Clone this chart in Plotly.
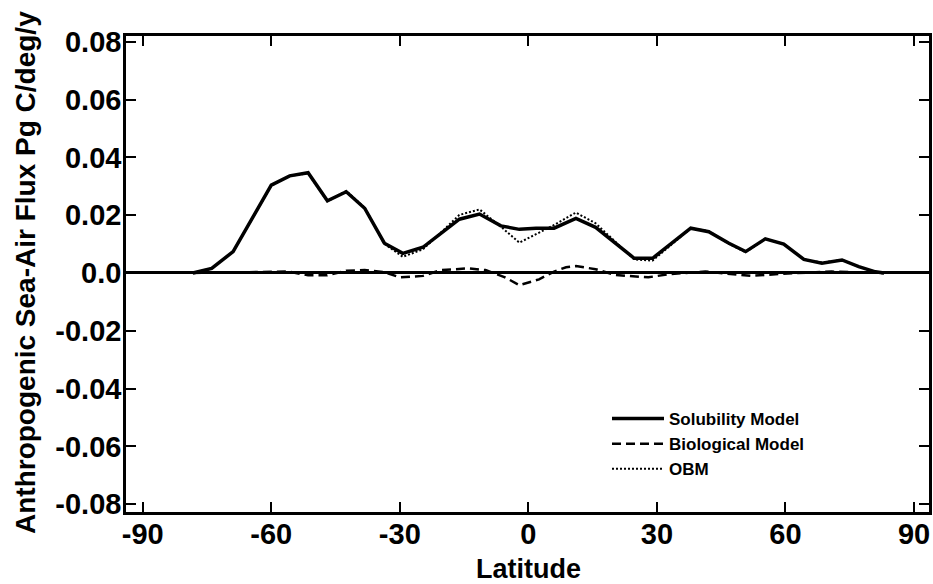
import plotly.graph_objects as go

# Latitude (deg) and fluxes (Pg C/deg/y)
lat_sol = [-78.3, -73.9, -68.9, -60.0, -55.7, -51.4, -46.9, -42.5, -38.2, -33.6,
           -29.3, -24.6, -20.4, -16.1, -11.4, -6.4, -2.1, 1.8, 6.0, 11.1,
           15.7, 24.7, 29.0, 37.9, 42.1, 46.8, 50.7, 55.3, 59.6, 64.3,
           68.5, 73.2, 77.1, 81.0, 83.0]
solubility = [0.0, 0.0016, 0.0074, 0.0304, 0.0336, 0.0347, 0.0250, 0.0281, 0.0224, 0.0103,
              0.0068, 0.0089, 0.0137, 0.0186, 0.0204, 0.0163, 0.0151, 0.0155, 0.0155, 0.0189,
              0.0158, 0.0051, 0.0051, 0.0155, 0.0143, 0.0103, 0.0074, 0.0118, 0.0100, 0.0047,
              0.0034, 0.0045, 0.0022, 0.0004, 0.0]
obm = [0.0, 0.0016, 0.0074, 0.0302, 0.0336, 0.0345, 0.0248, 0.0284, 0.0226, 0.0101,
       0.0056, 0.0082, 0.0140, 0.0201, 0.0220, 0.0160, 0.0105, 0.0135, 0.0166, 0.0209,
       0.0172, 0.0047, 0.0043, 0.0155, 0.0145, 0.0101, 0.0072, 0.0118, 0.0100, 0.0047,
       0.0036, 0.0045, 0.0022, 0.0004, 0.0]

lat_bio = [-78.3, -70.0, -60.0, -56.0, -51.4, -47.0, -42.5, -38.2, -33.6, -30.0,
           -24.6, -20.4, -13.8, -10.0, -5.6, -2.1, 2.5, 6.0, 8.8, 11.1,
           15.7, 20.4, 28.0, 32.8, 41.3, 52.0, 59.0, 70.8, 78.6, 83.0]
biological = [0.0, 0.0002, 0.0003, 0.0005, -0.0008, -0.0008, 0.0008, 0.0010, 0.0003, -0.0015,
              -0.0010, 0.0010, 0.0016, 0.0010, -0.0014, -0.0042, -0.0022, 0.0005, 0.0020, 0.0024,
              0.0013, -0.0007, -0.0015, -0.0004, 0.0005, -0.0010, -0.0003, 0.0005, 0.0001, 0.0]

x_ticks = [-90, -60, -30, 0, 30, 60, 90]
x_ticktext = ["-90", "-60", "-30", "0", "30", "60", "90"]
y_ticks = [-0.08, -0.06, -0.04, -0.02, 0.0, 0.02, 0.04, 0.06, 0.08]
y_ticktext = ["-0.08", "-0.06", "-0.04", "-0.02", "0.0", "0.02", "0.04", "0.06", "0.08"]

FONT = "Liberation Sans, Arial, sans-serif"

W, H = 933, 584
ML, MR, MT, MB = 126, 4, 36, 72
PW = W - ML - MR  # 803
PH = H - MT - MB  # 476

fig = go.Figure()
fig.add_trace(go.Scatter(x=lat_sol, y=solubility, mode="lines", name="Solubility Model",
                         line=dict(color="black", width=3.5)))
fig.add_trace(go.Scatter(x=lat_bio, y=biological, mode="lines", name="Biological Model",
                         line=dict(color="black", width=2.5, dash="9px,5px")))
fig.add_trace(go.Scatter(x=lat_sol, y=obm, mode="lines", name="OBM",
                         line=dict(color="black", width=2, dash="2px,2px")))

axis_common = dict(showline=True, linecolor="black", linewidth=2.5, mirror="ticks",
                   ticks="inside", ticklen=10, tickwidth=1.5, tickcolor="black",
                   showgrid=False, automargin=False, ticklabeloverflow="allow",
                   tickfont=dict(family=FONT, size=29, color="black", weight="bold"))

fig.update_xaxes(range=[-93.9, 93.5], tickvals=x_ticks, ticktext=x_ticktext,
                 zeroline=False, ticklabelstandoff=-6, **axis_common)
fig.update_yaxes(range=[-0.0827, 0.082], tickvals=y_ticks, ticktext=y_ticktext,
                 zeroline=True, zerolinecolor="black", zerolinewidth=2.5,
                 ticklabelstandoff=-4, **axis_common)

def px(sx):
    return (sx - ML) / PW

def py(sy):
    return (MT + PH - sy) / PH

fig.add_annotation(text="Latitude", xref="paper", yref="paper",
                   x=px(528), y=py(569),
                   xanchor="center", yanchor="middle", showarrow=False,
                   font=dict(family=FONT, size=27, color="black", weight="bold"))
fig.add_annotation(text="Anthropogenic Sea-Air Flux Pg C/deg/y", xref="paper", yref="paper",
                   x=px(25), y=py(273), textangle=-90,
                   xanchor="center", yanchor="middle", showarrow=False,
                   font=dict(family=FONT, size=28, color="black", weight="bold"))

fig.update_layout(
    width=W, height=H,
    margin=dict(l=ML, r=MR, t=MT, b=MB, autoexpand=False),
    paper_bgcolor="white", plot_bgcolor="white",
    showlegend=True,
    hovermode=False,
    legend=dict(x=px(607), y=py(401), xanchor="left", yanchor="top",
                bgcolor="rgba(0,0,0,0)", borderwidth=0, itemwidth=52, tracegroupgap=0,
                font=dict(family=FONT, size=17, color="black", weight="bold")),
)

fig.write_html(
    "out.html",
    config={"displayModeBar": False},
    post_script="document.body.style.margin='0';document.documentElement.style.overflow='hidden';",
)
